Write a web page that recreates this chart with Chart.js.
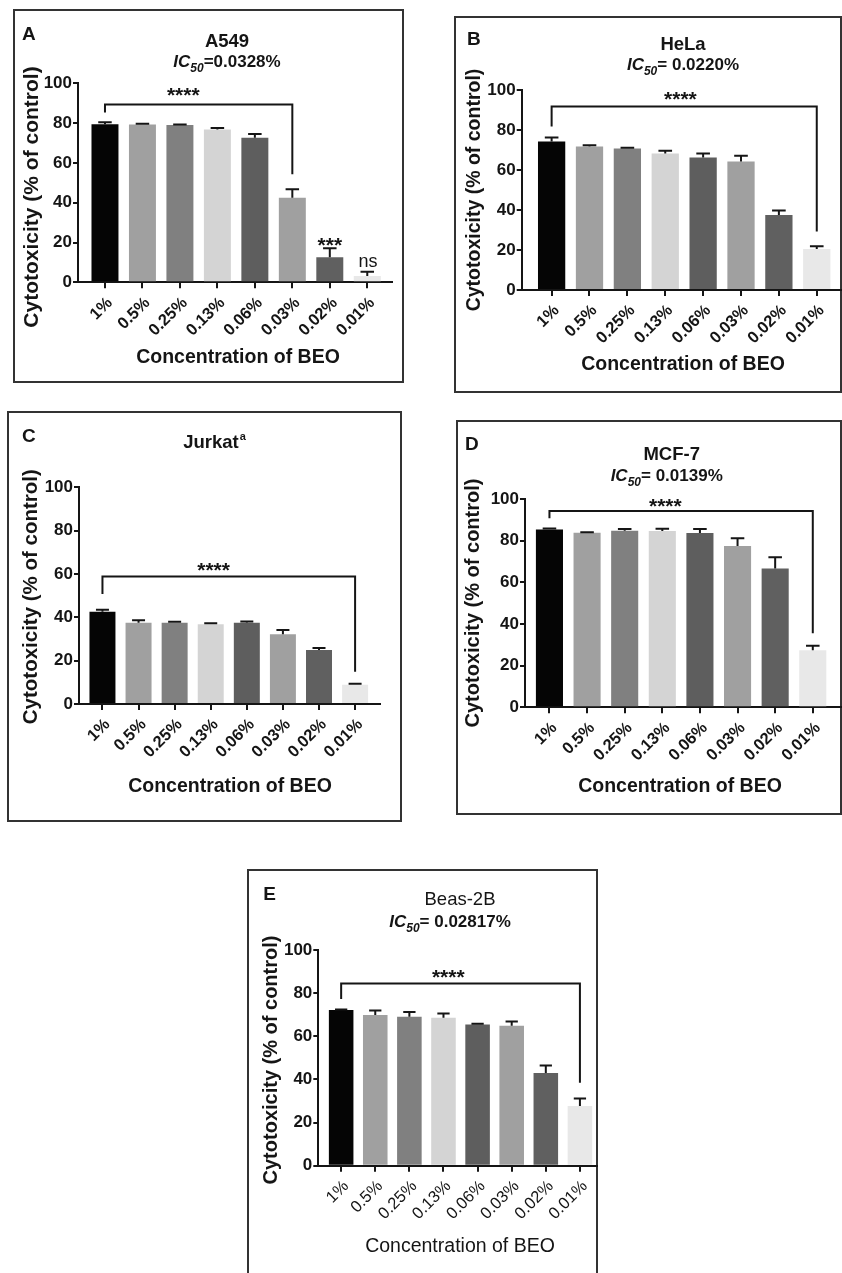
<!DOCTYPE html>
<html>
<head>
<meta charset="utf-8">
<script src="https://cdn.jsdelivr.net/npm/chart.js@4.4.1/dist/chart.umd.min.js"></script>
<style>
html, body { margin:0; padding:0; background:#fff; }
body { width:842px; height:1273px; position:relative; overflow:hidden; }
.panel { position:absolute; background:#fff; box-shadow: inset 0 0 0 2px #333; }
.panel canvas { position:absolute; left:0; top:0; }
</style>
</head>
<body>
<script>
// ===== data =====
const concLabels = ['1%', '0.5%', '0.25%', '0.13%', '0.06%', '0.03%', '0.02%', '0.01%'];
const barColors = ['#050505', '#a0a0a0', '#808080', '#d4d4d4', '#5e5e5e', '#a0a0a0', '#606060', '#e8e8e8'];
const yTicks = [0, 20, 40, 60, 80, 100];

// mean and SD, cytotoxicity (% of control)
const a549Mean   = [79.4, 79.3, 79.0, 76.8, 72.7, 42.5, 12.6, 3.2];
const a549Sd     = [1.0, 0.4, 0.3, 0.8, 1.8, 4.2, 4.5, 2.1];
const helaMean   = [74.2, 71.7, 70.8, 68.3, 66.3, 64.3, 37.5, 20.5];
const helaSd     = [2.1, 0.7, 0.3, 1.3, 2.0, 2.8, 2.3, 1.4];
const jurkatMean = [42.6, 37.5, 37.5, 36.8, 37.5, 32.2, 24.9, 8.9];
const jurkatSd   = [0.9, 1.1, 0.4, 0.5, 0.6, 2.0, 0.9, 0.5];
const mcf7Mean   = [85.4, 83.8, 84.8, 84.6, 83.7, 77.4, 66.6, 27.4];
const mcf7Sd     = [0.4, 0.2, 0.8, 1.1, 1.9, 3.8, 5.4, 2.2];
const beasMean   = [72.2, 69.9, 69.1, 68.6, 65.5, 64.9, 43.0, 27.7];
const beasSd     = [0.2, 2.1, 2.2, 2.0, 0.3, 2.0, 3.4, 3.4];

// significance brackets (category index, y in % units) and star labels
const a549Bracket   = {from: 0, to: 5, y: 89.3, dropL: 85.3, dropR: 54.3};
const helaBracket   = {from: 0, to: 7, y: 91.7, dropL: 81.7, dropR: 29.2};
const jurkatBracket = {from: 0, to: 7, y: 58.8, dropL: 50.8, dropR: 14.9};
const mcf7Bracket   = {from: 0, to: 7, y: 94.2, dropL: 90.7, dropR: 35.5};
const beasBracket   = {from: 0, to: 7, y: 84.5, dropL: 77.3, dropR: 38.5};

const a549Stars   = [{x: 2.09, y: 95.6, text: '****'}, {x: 6, y: 20.3, text: '***'}, {x: 7.02, y: 10.4, text: 'ns'}];
const helaStars   = [{x: 3.4, y: 97, text: '****'}];
const jurkatStars = [{x: 3.08, y: 63.4, text: '****'}];
const mcf7Stars   = [{x: 3.08, y: 98.1, text: '****'}];
const beasStars   = [{x: 3.14, y: 88.9, text: '****'}];

const FONT = '"Liberation Sans", Arial, Helvetica, sans-serif';
const INK = '#151515';

// ===== panels (layout in page pixels) =====
const panels = [
  { letter: 'A', title: 'A549', ic: '=0.0328%', mean: a549Mean, sd: a549Sd, bracket: a549Bracket, stars: a549Stars,
    box: {x: 13, y: 9, w: 391, h: 374}, plot: {left: 78, top: 83.3, right: 392, bottom: 282.3}, xMin: -0.72, xMax: 7.66,
    letterAt: [22, 40], titleAt: [227, 46.7], icAt: [227, 66.7], xTitleAt: [238, 362.7], yTitleAt: [32, 197], yTitleSize: 21,
    bold: true },
  { letter: 'B', title: 'HeLa', ic: '= 0.0220%', mean: helaMean, sd: helaSd, bracket: helaBracket, stars: helaStars,
    box: {x: 454, y: 16, w: 388, h: 377}, plot: {left: 521.7, top: 90, right: 841, bottom: 290}, xMin: -0.79, xMax: 7.64,
    letterAt: [467, 45], titleAt: [683, 50], icAt: [683, 70], xTitleAt: [683, 370], yTitleAt: [475, 190], yTitleSize: 19.5,
    bold: true },
  { letter: 'C', title: 'Jurkat', sup: 'a', mean: jurkatMean, sd: jurkatSd, bracket: jurkatBracket, stars: jurkatStars,
    box: {x: 7, y: 411, w: 395, h: 411}, plot: {left: 79, top: 487.3, right: 380, bottom: 704}, xMin: -0.65, xMax: 7.69,
    letterAt: [22, 441.7], titleAt: [211, 448.3], xTitleAt: [230, 791.7], yTitleAt: [31.7, 596.7], yTitleSize: 20.5,
    bold: true },
  { letter: 'D', title: 'MCF-7', ic: '= 0.0139%', mean: mcf7Mean, sd: mcf7Sd, bracket: mcf7Bracket, stars: mcf7Stars,
    box: {x: 456, y: 420, w: 386, h: 395}, plot: {left: 525, top: 499, right: 841, bottom: 707.3}, xMin: -0.65, xMax: 7.75,
    letterAt: [465, 450], titleAt: [671.7, 460], icAt: [666.7, 480.7], xTitleAt: [680, 791.7], yTitleAt: [473.3, 603], yTitleSize: 20,
    bold: true },
  { letter: 'E', title: 'Beas-2B', ic: '= 0.02817%', mean: beasMean, sd: beasSd, bracket: beasBracket, stars: beasStars,
    box: {x: 247, y: 869, w: 351, h: 420}, plot: {left: 318.3, top: 950, right: 598, bottom: 1165.7}, xMin: -0.67, xMax: 7.53,
    letterAt: [263.3, 900], titleAt: [460, 905], icAt: [450, 926.7], xTitleAt: [460, 1251.7], yTitleAt: [271.7, 1060], yTitleSize: 20,
    bold: false }
];

// ===== drawing helpers =====
function drawIC(ctx, x, y, rest, size) {
  const f1 = 'italic bold ' + size + 'px ' + FONT;
  const f2 = 'italic bold ' + Math.round(size * 0.72) + 'px ' + FONT;
  const f3 = 'bold ' + size + 'px ' + FONT;
  ctx.font = f1; const w1 = ctx.measureText('IC').width;
  ctx.font = f2; const w2 = ctx.measureText('50').width;
  ctx.font = f3; const w3 = ctx.measureText(rest).width;
  let sx = x - (w1 + w2 + w3) / 2;
  ctx.textAlign = 'left';
  ctx.textBaseline = 'alphabetic';
  ctx.font = f1; ctx.fillText('IC', sx, y); sx += w1;
  ctx.font = f2; ctx.fillText('50', sx, y + size * 0.3); sx += w2;
  ctx.font = f3; ctx.fillText(rest, sx, y);
}

const decoPlugin = {
  id: 'deco',
  afterDatasetsDraw(chart) {
    const p = chart.options.plugins.deco;
    const xs = chart.scales.x, ys = chart.scales.y;
    const ctx = chart.ctx;
    const meta = chart.getDatasetMeta(0);
    ctx.save();
    ctx.strokeStyle = INK;
    ctx.lineWidth = 2;
    ctx.lineCap = 'butt';
    // error bars (upper only)
    meta.data.forEach((bar, i) => {
      const top = ys.getPixelForValue(p.mean[i]);
      const end = ys.getPixelForValue(p.mean[i] + p.sd[i]);
      const half = bar.width * 0.25;
      ctx.beginPath();
      ctx.moveTo(bar.x, top);
      ctx.lineTo(bar.x, end);
      ctx.moveTo(bar.x - half, end);
      ctx.lineTo(bar.x + half, end);
      ctx.stroke();
    });
    // bracket
    const b = p.bracket;
    const x0 = xs.getPixelForValue(b.from), x1 = xs.getPixelForValue(b.to);
    ctx.beginPath();
    ctx.moveTo(x0, ys.getPixelForValue(b.dropL));
    ctx.lineTo(x0, ys.getPixelForValue(b.y));
    ctx.lineTo(x1, ys.getPixelForValue(b.y));
    ctx.lineTo(x1, ys.getPixelForValue(b.dropR));
    ctx.stroke();
    // stars / ns
    ctx.fillStyle = INK;
    ctx.textAlign = 'center';
    ctx.textBaseline = 'alphabetic';
    p.stars.forEach(s => {
      ctx.font = (s.text === 'ns' ? '' : 'bold ') + (s.text === 'ns' ? 18 : 21) + 'px ' + FONT;
      const m = ctx.measureText(s.text);
      const cy = ys.getPixelForValue(s.y);
      ctx.fillText(s.text, xs.getPixelForValue(s.x), cy + (m.actualBoundingBoxAscent - m.actualBoundingBoxDescent) / 2);
    });
    ctx.restore();
  },
  afterDraw(chart) {
    const p = chart.options.plugins.deco;
    const ctx = chart.ctx;
    const ox = p.box.x, oy = p.box.y;
    ctx.save();
    ctx.fillStyle = INK;
    ctx.textBaseline = 'alphabetic';
    // panel letter
    ctx.textAlign = 'left';
    ctx.font = 'bold 19px ' + FONT;
    ctx.fillText(p.letter, p.letterAt[0] - ox, p.letterAt[1] - oy);
    // title
    ctx.font = (p.bold ? 'bold ' : '') + '18.5px ' + FONT;
    if (p.sup) {
      const w = ctx.measureText(p.title).width;
      ctx.textAlign = 'left';
      const tx = p.titleAt[0] - ox - w / 2;
      ctx.fillText(p.title, tx, p.titleAt[1] - oy);
      ctx.font = 'bold 11px ' + FONT;
      ctx.fillText(p.sup, tx + w + 1, p.titleAt[1] - oy - 8);
    } else {
      ctx.textAlign = 'center';
      ctx.fillText(p.title, p.titleAt[0] - ox, p.titleAt[1] - oy);
    }
    if (p.ic) drawIC(ctx, p.icAt[0] - ox, p.icAt[1] - oy, p.ic, 17);
    // x title
    ctx.textAlign = 'center';
    ctx.font = (p.bold ? 'bold ' : '') + '19.5px ' + FONT;
    ctx.fillText('Concentration of BEO', p.xTitleAt[0] - ox, p.xTitleAt[1] - oy);
    // y title
    ctx.translate(p.yTitleAt[0] - ox, p.yTitleAt[1] - oy);
    ctx.rotate(-Math.PI / 2);
    ctx.textBaseline = 'middle';
    ctx.font = 'bold ' + p.yTitleSize + 'px ' + FONT;
    ctx.fillText('Cytotoxicity (% of control)', 0, 0);
    ctx.restore();
  }
};

function makePanel(p) {
  const div = document.createElement('div');
  div.className = 'panel';
  div.style.left = p.box.x + 'px';
  div.style.top = p.box.y + 'px';
  div.style.width = p.box.w + 'px';
  div.style.height = p.box.h + 'px';
  const cv = document.createElement('canvas');
  cv.width = p.box.w;
  cv.height = p.box.h;
  div.appendChild(cv);
  document.body.appendChild(div);

  const padLeft = p.plot.left - p.box.x;
  const padTop = p.plot.top - p.box.y;
  const padRight = p.box.x + p.box.w - p.plot.right;
  const padBottom = p.box.y + p.box.h - p.plot.bottom;
  const tickFont = {family: FONT, size: 16.5, weight: p.bold ? 'bold' : 'normal'};

  new Chart(cv, {
    type: 'bar',
    data: {
      datasets: [{
        data: p.mean.map((v, i) => ({x: i, y: v})),
        backgroundColor: barColors,
        borderWidth: 0,
        barPercentage: 0.72,
        categoryPercentage: 1
      }]
    },
    options: {
      responsive: false,
      animation: false,
      layout: {padding: {left: 0, top: padTop, right: padRight, bottom: 0}},
      plugins: {legend: {display: false}, tooltip: {enabled: false}, deco: p},
      scales: {
        x: {
          type: 'linear',
          offset: false,
          min: p.xMin,
          max: p.xMax,
          afterBuildTicks: s => { s.ticks = concLabels.map((c, i) => ({value: i})); },
          afterFit: s => { s.height = padBottom; s.paddingLeft = 0; s.paddingRight = 0; },
          ticks: {
            autoSkip: false, minRotation: 45, maxRotation: 45, padding: 5, labelOffset: 5,
            color: INK, font: tickFont,
            callback: v => concLabels[v]
          },
          grid: {offset: false, drawOnChartArea: false, drawTicks: true, tickLength: 6, color: INK, lineWidth: 2},
          border: {display: true, color: INK, width: 2}
        },
        y: {
          min: 0,
          max: 100,
          afterBuildTicks: s => { s.ticks = yTicks.map(v => ({value: v})); },
          afterFit: s => { s.width = padLeft; s.paddingTop = 0; s.paddingBottom = 0; },
          ticks: {padding: 1, color: INK, font: {family: FONT, size: 17, weight: 'bold'}},
          grid: {drawOnChartArea: false, drawTicks: true, tickLength: 5, color: INK, lineWidth: 2},
          border: {display: true, color: INK, width: 2}
        }
      }
    },
    plugins: [decoPlugin]
  });
}

panels.forEach(makePanel);
</script>
</body>
</html>
